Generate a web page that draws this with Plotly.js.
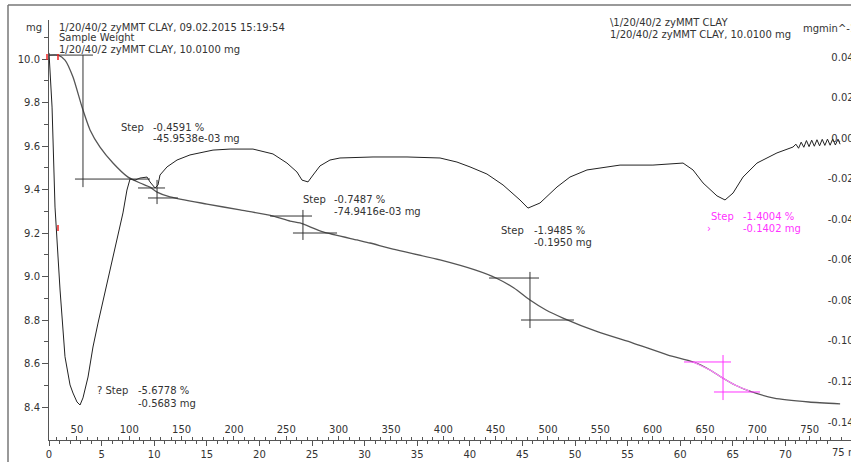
<!DOCTYPE html>
<html>
<head>
<meta charset="utf-8">
<script src="https://cdn.plot.ly/plotly-3.0.1.min.js"></script>
<style>
html,body{margin:0;padding:0;overflow:hidden;background:#fff;}
#chart{width:880px;height:462px;}
</style>
</head>
<body>
<div id="chart"></div>
<script>
// ---- Data ----
// TG curve: time (min) vs sample mass (mg)
const tgTime = [0, 0.86, 1.52, 2.28, 3.14, 3.90, 4.85, 6.08, 7.51, 8.65, 9.60, 10.27, 11.50, 15.02, 18.16, 21.29, 22.91, 23.86, 26.05, 29.28, 30.51, 32.70, 37.17, 40.49, 42.49, 44.20, 45.72, 47.24, 48.86, 52.19, 55.51, 58.84, 61.22, 62.83, 63.88, 65.21, 66.54, 68.92, 72.24, 75.20];
const tgMass = [10.018, 10.018, 9.995, 9.917, 9.779, 9.674, 9.595, 9.522, 9.457, 9.430, 9.411, 9.388, 9.366, 9.333, 9.306, 9.278, 9.255, 9.246, 9.205, 9.168, 9.154, 9.126, 9.076, 9.030, 8.993, 8.947, 8.892, 8.846, 8.809, 8.745, 8.694, 8.639, 8.607, 8.570, 8.538, 8.501, 8.474, 8.441, 8.423, 8.414];

// DTG curve: time (min) vs mass change rate (mg/min)
const dtgTime = [0, 0.10, 0.29, 0.57, 1.05, 1.52, 2.00, 2.28, 2.66, 2.95, 3.23, 3.71, 4.18, 4.66, 5.32, 5.80, 6.46, 7.03, 7.41, 7.70, 8.17, 8.65, 9.32, 9.60, 10.08, 10.36, 10.55, 11.22, 12.17, 13.40, 15.59, 17.21, 19.39, 21.29, 22.62, 23.57, 24.05, 24.62, 25.10, 25.76, 26.71, 27.66, 30.80, 34.03, 37.17, 38.78, 40.02, 41.63, 43.16, 44.77, 45.53, 46.67, 48.29, 49.52, 51.14, 54.28, 57.41, 60.27, 61.22, 62.17, 63.50, 64.26, 65.02, 65.97, 67.30, 69.20, 70.72, 71.00, 71.25, 71.50, 71.75, 72.00, 72.25, 72.50, 72.75, 73.00, 73.25, 73.50, 73.75, 74.00, 74.25, 74.50, 74.75, 75.00, 75.20];
const dtgRate = [0.042, 0.032, 0.0153, -0.034, -0.0749, -0.1078, -0.1217, -0.1257, -0.1301, -0.1316, -0.1281, -0.1178, -0.1030, -0.0912, -0.0764, -0.0650, -0.0502, -0.0369, -0.0256, -0.0202, -0.0207, -0.0197, -0.0192, -0.0216, -0.0246, -0.0231, -0.0182, -0.0142, -0.0108, -0.0083, -0.0059, -0.0054, -0.0054, -0.0078, -0.0123, -0.0167, -0.0207, -0.0216, -0.0182, -0.0137, -0.0108, -0.0098, -0.0093, -0.0093, -0.0098, -0.0118, -0.0142, -0.0177, -0.0231, -0.0305, -0.0345, -0.0320, -0.0241, -0.0192, -0.0157, -0.0133, -0.0133, -0.0123, -0.0157, -0.0221, -0.0285, -0.0305, -0.0271, -0.0192, -0.0123, -0.0073, -0.0044, -0.0030, -0.0050, -0.0020, -0.0045, -0.0012, -0.0042, -0.0010, -0.0040, -0.0008, -0.0038, -0.0006, -0.0036, -0.0005, -0.0035, -0.0004, -0.0034, -0.0005, -0.0030];

// Tick labels
const timeTicks = [0, 5, 10, 15, 20, 25, 30, 35, 40, 45, 50, 55, 60, 65, 70, 75];
const timeTickText = ['0', '5', '10', '15', '20', '25', '30', '35', '40', '45', '50', '55', '60', '65', '70', ''];
const lastTimeLabel = '75 min';
const tempTicks = [50, 100, 150, 200, 250, 300, 350, 400, 450, 500, 550, 600, 650, 700, 750];
const massTicks = [8.4, 8.6, 8.8, 9.0, 9.2, 9.4, 9.6, 9.8, 10.0];
const rateTicks = [-0.14, -0.12, -0.10, -0.08, -0.06, -0.04, -0.02, 0.00, 0.02, 0.04];
const rateTickText = ['-0.140', '-0.120', '-0.100', '-0.080', '-0.060', '-0.040', '-0.020', '0.000', '0.020', '0.040'];

// Step evaluations: [vertical t, vertical mg top, vertical mg bottom, upper mg, upper t0, upper t1, lower mg, lower t0, lower t1]
const stepEvals = [
  [3.23, 10.018, 9.411, 10.018, 0.0, 4.18, 9.448, 2.47, 9.60],
  [10.27, 9.444, 9.333, 9.407, 8.46, 11.03, 9.361, 9.41, 12.26],
  [24.14, 9.306, 9.168, 9.278, 21.01, 25.00, 9.200, 23.19, 27.38],
  [45.72, 9.021, 8.763, 8.993, 41.83, 46.58, 8.800, 44.87, 49.90],
  [64.07, 8.639, 8.432, 8.607, 60.36, 64.83, 8.469, 63.21, 67.59]
];
const magentaRange = [60.3, 66.6];

// ---- Layout geometry ----
const L = 49, R = 861, T = 20, B = 440;
const PW = R - L, PH = B - T;
const pxPerMin = 10.52;
const tMax = PW / pxPerMin;
const tempAt0 = 23.3, rate = 10.05;
const mgAt = (py) => 10.0 - (py - 59) / 217.5;
const dtgAt = (py) => 0.04 - (py - 57) / 2028;

const FONT = 'DejaVu Sans, Verdana, sans-serif';
const TXT = '#333333';
const MAG = '#ff33ff';

const traces = [
  {x: tgTime, y: tgMass, type: 'scatter', mode: 'lines', line: {color: '#555555', width: 1.3, shape: 'spline', smoothing: 0.6}, xaxis: 'x', yaxis: 'y', hoverinfo: 'skip'},
  {x: tgTime.filter(t => t >= magentaRange[0] && t <= magentaRange[1]), y: tgMass.filter((m, i) => tgTime[i] >= magentaRange[0] && tgTime[i] <= magentaRange[1]), type: 'scatter', mode: 'lines', line: {color: '#ff88ff', width: 1.3, shape: 'spline', smoothing: 0.6}, xaxis: 'x', yaxis: 'y', hoverinfo: 'skip'},
  {x: dtgTime, y: dtgRate, type: 'scatter', mode: 'lines', line: {color: '#222222', width: 1}, xaxis: 'x', yaxis: 'y2', hoverinfo: 'skip'},
  {x: [0], y: [10], type: 'scatter', mode: 'markers', marker: {opacity: 0}, xaxis: 'x2', yaxis: 'y', hoverinfo: 'skip'}
];

const shapes = [];
stepEvals.forEach((s, i) => {
  const col = i === 4 ? MAG : '#333333';
  shapes.push({type: 'line', xref: 'x', yref: 'y', x0: s[0], x1: s[0], y0: s[1], y1: s[2], line: {color: col, width: 1}});
  shapes.push({type: 'line', xref: 'x', yref: 'y', x0: s[4], x1: s[5], y0: s[3], y1: s[3], line: {color: col, width: 1}});
  shapes.push({type: 'line', xref: 'x', yref: 'y', x0: s[7], x1: s[8], y0: s[6], y1: s[6], line: {color: col, width: 1}});
});
// outer frame (top and left border)
shapes.push({type: 'line', xref: 'paper', yref: 'paper', x0: (8 - L) / PW, x1: (880 - L) / PW, y0: (B - 5) / PH, y1: (B - 5) / PH, line: {color: '#777777', width: 1.5}});
shapes.push({type: 'line', xref: 'paper', yref: 'paper', x0: (8 - L) / PW, x1: (8 - L) / PW, y0: (B - 5) / PH, y1: (B - 470) / PH, line: {color: '#777777', width: 1.5}});
// red evaluation marks
[[47, 57], [58, 57], [58, 228]].forEach(p => {
  shapes.push({type: 'line', xref: 'paper', yref: 'paper', x0: (p[0] - L) / PW, x1: (p[0] - L) / PW, y0: (B - p[1] + 3) / PH, y1: (B - p[1] - 3) / PH, line: {color: '#ee2222', width: 1.5}});
});

const texts = [
  ['mg', 25, 27, TXT],
  ['1/20/40/2 zyMMT CLAY, 09.02.2015 15:19:54', 58, 27, TXT],
  ['Sample Weight', 58, 38, TXT],
  ['1/20/40/2 zyMMT CLAY, 10.0100 mg', 58, 50, TXT],
  ['\\1/20/40/2 zyMMT CLAY', 609, 23, TXT],
  ['1/20/40/2 zyMMT CLAY, 10.0100 mg', 609, 35, TXT],
  ['mgmin^-1', 802, 28, TXT],
  ['Step', 120, 127, TXT], ['-0.4591 %', 152, 127, TXT], ['-45.9538e-03 mg', 152, 138, TXT],
  ['Step', 302, 199, TXT], ['-0.7487 %', 333, 199, TXT], ['-74.9416e-03 mg', 333, 211, TXT],
  ['Step', 500, 230, TXT], ['-1.9485 %', 533, 230, TXT], ['-0.1950 mg', 533, 242, TXT],
  ['Step', 710, 216, MAG], ['-1.4004 %', 742, 216, MAG], ['-0.1402 mg', 742, 228, MAG], ['›', 706, 228, MAG],
  ['? Step', 96, 390, TXT], ['-5.6778 %', 137, 390, TXT], ['-0.5683 mg', 137, 403, TXT],
  [lastTimeLabel, 831, 453, TXT]
];
const annotations = texts.map(a => ({
  text: a[0], xref: 'paper', yref: 'paper', x: (a[1] - L) / PW, y: (B - a[2]) / PH,
  xanchor: 'left', yanchor: 'middle', showarrow: false, borderpad: 0,
  font: {family: FONT, size: 10, color: a[3]}
}));

const axisFont = {family: FONT, size: 10, color: TXT};
const layout = {
  width: 880, height: 462,
  margin: {l: L, r: 880 - R, t: T, b: 462 - B, pad: 0},
  paper_bgcolor: '#ffffff', plot_bgcolor: '#ffffff',
  showlegend: false,
  xaxis: {
    range: [0, tMax], showgrid: false, zeroline: false,
    showline: true, linecolor: '#555555', linewidth: 1,
    tickmode: 'array', tickvals: timeTicks, ticktext: timeTickText,
    ticks: 'outside', ticklen: 5, tickcolor: '#555555', tickfont: axisFont,
    minor: {dtick: 1, tick0: 0, ticks: 'outside', ticklen: 3, tickcolor: '#555555'}
  },
  xaxis2: {
    overlaying: 'x', side: 'bottom', anchor: 'y',
    range: [tempAt0, tempAt0 + tMax * rate], showgrid: false, zeroline: false, showline: false,
    tickmode: 'array', tickvals: tempTicks, ticktext: tempTicks.map(String),
    ticks: 'inside', ticklen: 4, tickcolor: '#555555', ticklabelposition: 'inside', tickfont: axisFont,
    minor: {dtick: 10, tick0: 0, ticks: 'inside', ticklen: 3, tickcolor: '#555555'}
  },
  yaxis: {
    range: [mgAt(B), mgAt(T)], showgrid: false, zeroline: false,
    showline: true, linecolor: '#555555', linewidth: 1,
    tickmode: 'array', tickvals: massTicks, ticktext: massTicks.map(v => v.toFixed(1)),
    ticks: 'outside', ticklen: 6, tickcolor: '#555555', tickfont: axisFont,
    minor: {dtick: 0.1, tick0: 0, ticks: 'outside', ticklen: 4, tickcolor: '#555555'}
  },
  yaxis2: {
    overlaying: 'y', side: 'right', anchor: 'x',
    range: [dtgAt(B), dtgAt(T)], showgrid: false, zeroline: false,
    showline: true, linecolor: '#555555',
    tickmode: 'array', tickvals: rateTicks, ticktext: rateTickText,
    ticks: '', ticklabelposition: 'inside', tickfont: axisFont
  },
  shapes: shapes,
  annotations: annotations
};

Plotly.newPlot('chart', traces, layout, {displayModeBar: false, staticPlot: true});
</script>
</body>
</html>
